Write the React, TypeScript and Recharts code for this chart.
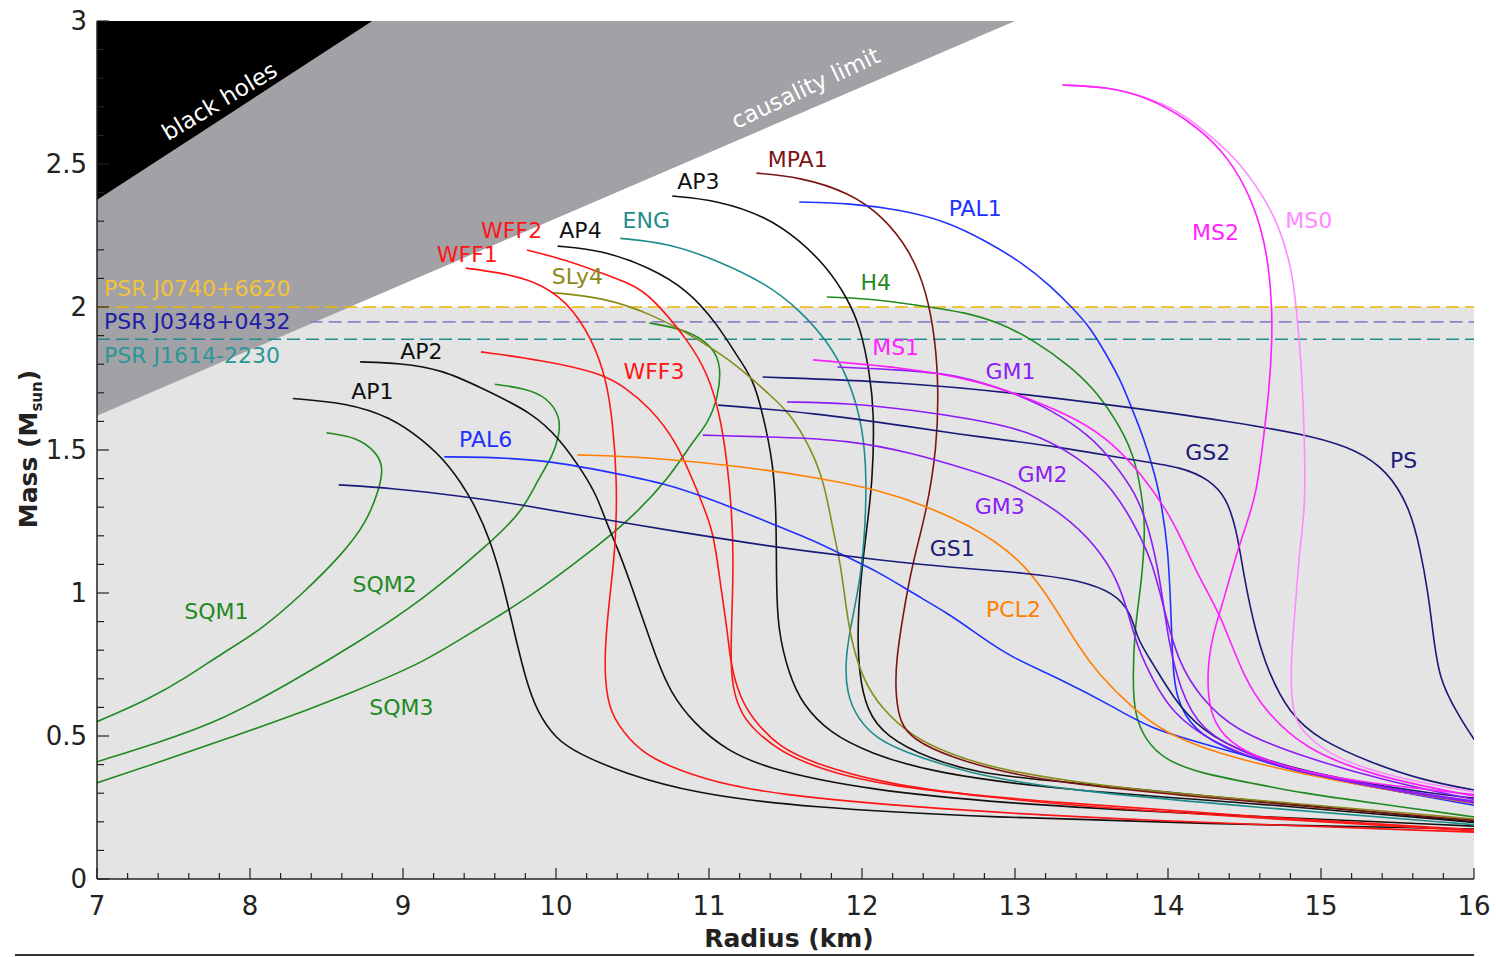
import React from 'react';
import {
  ComposedChart,
  Line,
  Area,
  XAxis,
  YAxis,
  ReferenceArea,
  ReferenceLine,
  ReferenceDot,
} from 'recharts';

type Pt = [number, number]; // [radius km, mass Msun]

// ---- mass-radius curves ----
const SQM1: Pt[] = [[8.5, 1.56], [8.7, 1.545], [8.83, 1.49], [8.87, 1.44], [8.85, 1.37], [8.76, 1.245], [8.61, 1.14], [8.35, 1.0], [8.07, 0.87], [7.82, 0.79], [7.59, 0.706], [7.33, 0.626], [7.0, 0.55]];
const SQM2: Pt[] = [[9.6, 1.73], [9.8, 1.715], [9.94, 1.685], [10.03, 1.615], [10.02, 1.55], [9.98, 1.48], [9.88, 1.395], [9.78, 1.285], [9.57, 1.175], [9.13, 0.976], [8.7, 0.825], [8.26, 0.685], [7.82, 0.556], [7.39, 0.475], [7.0, 0.41]];
const SQM3: Pt[] = [[10.61, 1.944], [10.86, 1.92], [11.03, 1.86], [11.08, 1.79], [11.06, 1.685], [10.99, 1.59], [10.9, 1.535], [10.73, 1.395], [10.48, 1.255], [10.19, 1.13], [9.83, 0.986], [9.5, 0.88], [9.13, 0.755], [8.7, 0.66], [8.26, 0.567], [7.82, 0.486], [7.39, 0.405], [7.0, 0.336]];
const AP1: Pt[] = [[8.28, 1.68], [8.63, 1.665], [8.92, 1.615], [9.13, 1.535], [9.3, 1.45], [9.46, 1.32], [9.57, 1.185], [9.65, 1.04], [9.72, 0.88], [9.8, 0.7], [9.88, 0.58], [10.0, 0.49], [10.14, 0.44], [10.44, 0.37], [10.9, 0.3], [11.62, 0.25], [12.89, 0.215], [14.16, 0.194], [16, 0.175]];
const AP2: Pt[] = [[8.72, 1.808], [8.98, 1.804], [9.26, 1.78], [9.5, 1.72], [9.85, 1.63], [10.03, 1.535], [10.18, 1.42], [10.27, 1.336], [10.33, 1.245], [10.4, 1.16], [10.48, 1.045], [10.57, 0.906], [10.66, 0.766], [10.75, 0.65], [10.9, 0.545], [11.11, 0.45], [11.41, 0.38], [12.05, 0.311], [12.89, 0.266], [14.16, 0.228], [16, 0.185]];
const AP3: Pt[] = [[10.76, 2.388], [11.05, 2.374], [11.38, 2.315], [11.59, 2.234], [11.77, 2.14], [11.9, 2.035], [11.99, 1.93], [12.05, 1.77], [12.08, 1.63], [12.07, 1.395], [12.03, 1.22], [11.99, 1.045], [11.97, 0.87], [11.98, 0.72], [12.03, 0.59], [12.15, 0.5], [12.44, 0.42], [12.77, 0.37], [13.1, 0.35], [14.16, 0.295], [16, 0.2]];
const AP4: Pt[] = [[10.01, 2.213], [10.29, 2.2], [10.61, 2.14], [10.86, 2.06], [11.05, 1.944], [11.2, 1.815], [11.29, 1.745], [11.35, 1.63], [11.42, 1.455], [11.44, 1.28], [11.44, 1.045], [11.45, 0.87], [11.52, 0.72], [11.61, 0.61], [11.79, 0.51], [12.05, 0.44], [12.47, 0.37], [13.31, 0.311], [14.59, 0.264], [16, 0.198]];
const ENG: Pt[] = [[10.42, 2.24], [10.73, 2.224], [11.05, 2.164], [11.38, 2.08], [11.59, 1.99], [11.77, 1.885], [11.92, 1.745], [12.01, 1.57], [12.03, 1.395], [12.02, 1.22], [11.99, 1.045], [11.92, 0.87], [11.89, 0.755], [11.9, 0.65], [11.97, 0.56], [12.1, 0.49], [12.25, 0.45], [12.68, 0.37], [13.31, 0.311], [14.59, 0.25], [16, 0.19]];
const SLY4: Pt[] = [[9.98, 2.05], [10.29, 2.035], [10.61, 1.98], [10.94, 1.885], [11.2, 1.79], [11.38, 1.7], [11.53, 1.63], [11.66, 1.51], [11.75, 1.395], [11.81, 1.22], [11.86, 1.105], [11.9, 0.93], [11.94, 0.81], [12.01, 0.696], [12.12, 0.6], [12.33, 0.497], [12.56, 0.44], [12.89, 0.38], [13.74, 0.311], [14.8, 0.266], [16, 0.21]];
const MPA1: Pt[] = [[11.31, 2.468], [11.59, 2.455], [11.92, 2.4], [12.14, 2.315], [12.31, 2.2], [12.42, 2.06], [12.48, 1.885], [12.5, 1.71], [12.49, 1.51], [12.42, 1.28], [12.33, 1.105], [12.27, 0.93], [12.22, 0.755], [12.22, 0.636], [12.25, 0.545], [12.33, 0.49], [12.56, 0.427], [13.1, 0.346], [14.16, 0.287], [16, 0.205]];
const WFF1: Pt[] = [[9.41, 2.136], [9.63, 2.12], [9.85, 2.094], [10.07, 2.024], [10.24, 1.885], [10.33, 1.745], [10.37, 1.6], [10.4, 1.395], [10.39, 1.16], [10.35, 0.986], [10.32, 0.81], [10.32, 0.696], [10.35, 0.58], [10.48, 0.486], [10.62, 0.42], [10.95, 0.35], [11.41, 0.295], [12.47, 0.245], [13.74, 0.206], [16, 0.164]];
const WFF2: Pt[] = [[9.81, 2.199], [10.07, 2.164], [10.29, 2.12], [10.55, 2.07], [10.68, 2.0], [10.86, 1.885], [10.99, 1.77], [11.07, 1.63], [11.12, 1.455], [11.15, 1.28], [11.16, 1.105], [11.15, 0.93], [11.14, 0.755], [11.16, 0.65], [11.22, 0.57], [11.3, 0.52], [11.46, 0.445], [11.79, 0.37], [12.33, 0.311], [13.31, 0.266], [14.59, 0.217], [16, 0.172]];
const WFF3: Pt[] = [[9.51, 1.843], [9.9, 1.815], [10.29, 1.77], [10.45, 1.72], [10.61, 1.65], [10.79, 1.53], [10.92, 1.36], [11.03, 1.22], [11.07, 1.045], [11.12, 0.87], [11.14, 0.755], [11.2, 0.636], [11.29, 0.556], [11.46, 0.46], [11.68, 0.406], [12.12, 0.336], [12.77, 0.287], [13.74, 0.24], [16, 0.168]];
const H4: Pt[] = [[11.77, 2.035], [12.03, 2.03], [12.36, 2.007], [12.69, 1.98], [12.9, 1.944], [13.12, 1.885], [13.37, 1.79], [13.54, 1.7], [13.69, 1.58], [13.79, 1.465], [13.84, 1.3], [13.85, 1.22], [13.83, 1.045], [13.78, 0.87], [13.77, 0.696], [13.78, 0.58], [13.85, 0.486], [13.98, 0.416], [14.21, 0.37], [14.54, 0.336], [14.88, 0.3], [15.35, 0.265], [16, 0.217]];
const PAL1: Pt[] = [[11.59, 2.367], [11.92, 2.363], [12.25, 2.34], [12.55, 2.3], [12.8, 2.234], [13.05, 2.154], [13.24, 2.07], [13.37, 2.0], [13.49, 1.93], [13.59, 1.84], [13.69, 1.745], [13.76, 1.65], [13.84, 1.545], [13.92, 1.406], [13.96, 1.3], [14.0, 1.16], [14.02, 0.93], [14.03, 0.755], [14.05, 0.636], [14.16, 0.52], [14.43, 0.44], [14.88, 0.37], [15.33, 0.32], [16, 0.265]];
const PAL6: Pt[] = [[9.27, 1.476], [9.5, 1.476], [9.94, 1.465], [10.37, 1.42], [10.7, 1.385], [11.03, 1.325], [11.35, 1.255], [11.68, 1.185], [11.9, 1.126], [12.12, 1.07], [12.33, 1.0], [12.56, 0.93], [12.77, 0.85], [12.97, 0.776], [13.31, 0.696], [13.65, 0.6], [13.87, 0.53], [14.21, 0.476], [14.65, 0.41], [15.1, 0.35], [15.55, 0.3], [16, 0.258]];
const GS1: Pt[] = [[8.58, 1.378], [8.92, 1.367], [9.42, 1.336], [9.78, 1.308], [10.22, 1.266], [10.81, 1.213], [11.25, 1.175], [11.68, 1.143], [12.12, 1.115], [12.56, 1.09], [13.08, 1.07], [13.42, 1.045], [13.65, 1.0], [13.76, 0.93], [13.8, 0.836], [13.9, 0.755], [14.03, 0.636], [14.21, 0.52], [14.54, 0.427], [15.1, 0.35], [15.77, 0.295], [16, 0.283]];
const GS2: Pt[] = [[11.06, 1.657], [11.68, 1.63], [12.33, 1.58], [12.77, 1.545], [13.31, 1.51], [13.76, 1.465], [14.1, 1.44], [14.27, 1.395], [14.38, 1.336], [14.45, 1.22], [14.5, 1.045], [14.57, 0.87], [14.65, 0.73], [14.79, 0.58], [14.99, 0.486], [15.33, 0.406], [15.66, 0.346], [16, 0.311]];
const PS: Pt[] = [[11.35, 1.755], [12.25, 1.738], [12.99, 1.7], [13.74, 1.65], [14.48, 1.594], [14.98, 1.545], [15.23, 1.5], [15.43, 1.43], [15.58, 1.3], [15.65, 1.15], [15.7, 1.0], [15.73, 0.87], [15.77, 0.7], [15.89, 0.58], [16.0, 0.486], [16.1, 0.42]];
const GM1: Pt[] = [[11.84, 1.79], [12.25, 1.78], [12.62, 1.765], [12.99, 1.7], [13.24, 1.64], [13.49, 1.55], [13.64, 1.46], [13.79, 1.35], [13.88, 1.22], [13.95, 1.045], [14.0, 0.836], [14.08, 0.66], [14.21, 0.52], [14.54, 0.427], [15.0, 0.36], [15.52, 0.31], [16, 0.272]];
const MS1: Pt[] = [[11.68, 1.815], [12.25, 1.79], [12.75, 1.745], [13.12, 1.675], [13.42, 1.605], [13.64, 1.524], [13.84, 1.406], [13.99, 1.29], [14.08, 1.2], [14.21, 1.045], [14.34, 0.93], [14.5, 0.696], [14.65, 0.58], [14.88, 0.46], [15.33, 0.36], [16, 0.29]];
const MS2: Pt[] = [[13.31, 2.776], [13.61, 2.77], [13.86, 2.734], [14.11, 2.664], [14.36, 2.549], [14.51, 2.42], [14.61, 2.28], [14.66, 2.14], [14.68, 1.99], [14.68, 1.874], [14.66, 1.7], [14.62, 1.524], [14.58, 1.35], [14.5, 1.22], [14.43, 1.105], [14.37, 0.986], [14.3, 0.87], [14.26, 0.755], [14.26, 0.636], [14.3, 0.545], [14.43, 0.46], [14.76, 0.39], [15.22, 0.34], [16, 0.295]];
const MS0: Pt[] = [[13.31, 2.776], [13.61, 2.77], [13.86, 2.734], [14.05, 2.69], [14.21, 2.63], [14.44, 2.524], [14.61, 2.4], [14.73, 2.28], [14.81, 2.13], [14.84, 1.99], [14.87, 1.815], [14.89, 1.58], [14.9, 1.3], [14.86, 1.16], [14.83, 0.93], [14.8, 0.755], [14.81, 0.58], [14.88, 0.51], [15.1, 0.416], [15.55, 0.346], [16, 0.305]];
const GM2: Pt[] = [[11.51, 1.668], [11.9, 1.664], [12.33, 1.64], [12.7, 1.61], [13.08, 1.57], [13.42, 1.476], [13.65, 1.36], [13.8, 1.22], [13.9, 1.105], [13.98, 0.93], [14.07, 0.755], [14.21, 0.636], [14.43, 0.52], [14.88, 0.427], [15.44, 0.34], [16, 0.278]];
const GM3: Pt[] = [[10.96, 1.552], [11.46, 1.545], [11.9, 1.535], [12.33, 1.49], [12.7, 1.43], [12.97, 1.385], [13.31, 1.28], [13.54, 1.16], [13.67, 1.045], [13.74, 0.93], [13.8, 0.81], [13.9, 0.696], [14.03, 0.58], [14.26, 0.486], [14.65, 0.4], [15.33, 0.32], [16, 0.268]];
const PCL2: Pt[] = [[10.14, 1.483], [10.59, 1.476], [11.25, 1.44], [11.68, 1.406], [12.12, 1.36], [12.44, 1.3], [12.7, 1.235], [12.86, 1.185], [13.05, 1.105], [13.2, 1.0], [13.31, 0.906], [13.42, 0.81], [13.54, 0.72], [13.76, 0.6], [13.98, 0.51], [14.32, 0.44], [14.76, 0.38], [15.33, 0.32], [16, 0.265]];

// ---- excluded regions (boundary lines) ----
const blackHoleBand = [
  { r: 7, band: [2.374, 3] },
  { r: 8.8, band: [3, 3] },
];
const causalityBand = [
  { r: 7, band: [1.62, 2.374] },
  { r: 8.8, band: [2.034, 3] },
  { r: 13, band: [3, 3] },
];

// ---- pulsar mass limits ----
const pulsars = [
  { name: 'PSR J0740+6620', mass: 2.0, from: 7, line: '#f0b400', text: '#f2c23a', labelM: 2.063 },
  { name: 'PSR J0348+0432', mass: 1.948, from: 8.39, line: '#8a86c8', text: '#1c1ca6', labelM: 1.948 },
  { name: 'PSR J1614-2230', mass: 1.887, from: 7, line: '#1f8c8c', text: '#2a9797', labelM: 1.829 },
];

const GREEN = '#1f8a1f';
const BLACK = '#111111';
const RED = '#ff1515';
const TEAL = '#1f8c8c';
const OLIVE = '#8a8a1a';
const MAROON = '#7d1414';
const BLUE = '#2030ff';
const MAGENTA = '#ff1fff';
const PINK = '#ff8aff';
const PURPLE = '#8c1cf5';
const NAVY = '#1a1a78';
const ORANGE = '#ff8000';

const curves = [
  { name: 'SQM1', pts: SQM1, color: GREEN },
  { name: 'SQM2', pts: SQM2, color: GREEN },
  { name: 'SQM3', pts: SQM3, color: GREEN },
  { name: 'H4', pts: H4, color: GREEN },
  { name: 'AP1', pts: AP1, color: BLACK },
  { name: 'AP2', pts: AP2, color: BLACK },
  { name: 'AP3', pts: AP3, color: BLACK },
  { name: 'AP4', pts: AP4, color: BLACK },
  { name: 'ENG', pts: ENG, color: TEAL },
  { name: 'SLy4', pts: SLY4, color: OLIVE },
  { name: 'MPA1', pts: MPA1, color: MAROON },
  { name: 'WFF1', pts: WFF1, color: RED },
  { name: 'WFF2', pts: WFF2, color: RED },
  { name: 'WFF3', pts: WFF3, color: RED },
  { name: 'PAL1', pts: PAL1, color: BLUE },
  { name: 'PAL6', pts: PAL6, color: BLUE },
  { name: 'PCL2', pts: PCL2, color: ORANGE },
  { name: 'GS1', pts: GS1, color: NAVY },
  { name: 'GS2', pts: GS2, color: NAVY },
  { name: 'PS', pts: PS, color: NAVY },
  { name: 'GM1', pts: GM1, color: PURPLE },
  { name: 'GM2', pts: GM2, color: PURPLE },
  { name: 'GM3', pts: GM3, color: PURPLE },
  { name: 'MS0', pts: MS0, color: PINK },
  { name: 'MS1', pts: MS1, color: MAGENTA },
  { name: 'MS2', pts: MS2, color: MAGENTA },
];

// curve name labels: [text, r, m, color]
const curveLabels: [string, number, number, string][] = [
  ['MPA1', 11.58, 2.514, MAROON],
  ['AP3', 10.93, 2.44, BLACK],
  ['PAL1', 12.74, 2.346, BLUE],
  ['MS2', 14.31, 2.259, MAGENTA],
  ['MS0', 14.92, 2.304, PINK],
  ['WFF2', 9.71, 2.269, RED],
  ['AP4', 10.16, 2.269, BLACK],
  ['ENG', 10.59, 2.304, TEAL],
  ['WFF1', 9.42, 2.185, RED],
  ['SLy4', 10.14, 2.105, OLIVE],
  ['H4', 12.09, 2.084, GREEN],
  ['MS1', 12.22, 1.86, MAGENTA],
  ['AP2', 9.12, 1.846, BLACK],
  ['WFF3', 10.64, 1.773, RED],
  ['GM1', 12.97, 1.773, PURPLE],
  ['AP1', 8.8, 1.706, BLACK],
  ['PAL6', 9.54, 1.538, BLUE],
  ['GS2', 14.26, 1.49, NAVY],
  ['PS', 15.54, 1.465, NAVY],
  ['GM2', 13.18, 1.416, PURPLE],
  ['GM3', 12.9, 1.304, PURPLE],
  ['GS1', 12.59, 1.154, NAVY],
  ['SQM2', 8.88, 1.031, GREEN],
  ['SQM1', 7.78, 0.937, GREEN],
  ['PCL2', 12.99, 0.944, ORANGE],
  ['SQM3', 8.99, 0.598, GREEN],
];

const xMajor = [7, 8, 9, 10, 11, 12, 13, 14, 15, 16];
const yMajor = [0, 0.5, 1, 1.5, 2, 2.5, 3];
const xTicks: number[] = [];
for (let i = 0; i <= 45; i++) xTicks.push(Math.round((7 + i * 0.2) * 10) / 10);
const yTicks: number[] = [];
for (let i = 0; i <= 30; i++) yTicks.push(i / 10);

const FONT = "'DejaVu Sans', 'Lucida Grande', sans-serif";
const AXIS = '#222222';

const isMajor = (v: number, list: number[]) => list.some((t) => Math.abs(t - v) < 1e-6);

const BottomTick = (props: any) => {
  const { x, y, payload } = props;
  const major = isMajor(payload.value, xMajor);
  return (
    <g>
      <line x1={x} y1={y} x2={x} y2={y - (major ? 11 : 6)} stroke={AXIS} strokeWidth={1.2} />
      {major && (
        <text x={x} y={y + 36} textAnchor="middle" fontSize={26} fontFamily={FONT} fill={AXIS}>
          {payload.value}
        </text>
      )}
    </g>
  );
};

const TopTick = (props: any) => {
  const { x, y, payload } = props;
  const major = isMajor(payload.value, xMajor);
  return <line x1={x} y1={y} x2={x} y2={y + (major ? 11 : 6)} stroke={AXIS} strokeWidth={1.2} />;
};

const LeftTick = (props: any) => {
  const { x, y, payload } = props;
  const major = isMajor(payload.value, yMajor);
  return (
    <g>
      <line x1={x} y1={y} x2={x + (major ? 12 : 7)} y2={y} stroke={AXIS} strokeWidth={1.2} />
      {major && (
        <text x={x - 10} y={y + 9} textAnchor="end" fontSize={26} fontFamily={FONT} fill={AXIS}>
          {payload.value}
        </text>
      )}
    </g>
  );
};

const RightTick = (props: any) => {
  const { x, y, payload } = props;
  const major = isMajor(payload.value, yMajor);
  return <line x1={x} y1={y} x2={x - (major ? 12 : 7)} y2={y} stroke={AXIS} strokeWidth={1.2} />;
};

const textShape = (text: string, color: string, size = 22, angle = 0, weight = 'normal') => (p: any) => (
  <text
    x={p.cx}
    y={p.cy}
    textAnchor="middle"
    dominantBaseline="central"
    fontSize={size}
    fontFamily={FONT}
    fontWeight={weight}
    fill={color}
    transform={angle ? `rotate(${angle}, ${p.cx}, ${p.cy})` : undefined}
  >
    {text}
  </text>
);

const leftTextShape = (text: string, color: string) => (p: any) => (
  <text x={p.cx} y={p.cy} dominantBaseline="central" fontSize={22} fontFamily={FONT} fill={color}>
    {text}
  </text>
);

export default function App() {
  return (
    <div style={{ position: 'absolute', left: 0, top: 0, width: 1496, height: 957, background: '#fff' }}>
      <ComposedChart width={1496} height={957} margin={{ top: 21, right: 22, left: 0, bottom: 0 }}>
        <XAxis
          xAxisId="b"
          type="number"
          dataKey="r"
          domain={[7, 16]}
          allowDataOverflow
          ticks={xTicks}
          interval={0}
          tickSize={0}
          tickMargin={0}
          tickLine={false}
          tick={<BottomTick />}
          height={78}
          axisLine={{ stroke: AXIS, strokeWidth: 1.5 }}
          label={{
            content: () => (
              <text x={789} y={947} textAnchor="middle" fontSize={25} fontWeight="bold" fontFamily={FONT} fill={AXIS}>
                Radius (km)
              </text>
            ),
          }}
        />
        <XAxis
          xAxisId="t"
          orientation="top"
          type="number"
          dataKey="r"
          domain={[7, 16]}
          allowDataOverflow
          ticks={xTicks}
          interval={0}
          tickSize={0}
          tickMargin={0}
          tickLine={false}
          tick={<TopTick />}
          height={0}
          axisLine={{ stroke: AXIS, strokeWidth: 1.2 }}
        />
        <YAxis
          yAxisId="l"
          type="number"
          domain={[0, 3]}
          allowDataOverflow
          ticks={yTicks}
          interval={0}
          tickSize={0}
          tickMargin={0}
          tickLine={false}
          tick={<LeftTick />}
          width={97}
          axisLine={{ stroke: AXIS, strokeWidth: 1.5 }}
          label={{
            content: () => (
              <text
                transform="translate(37, 449) rotate(-90)"
                textAnchor="middle"
                fontSize={25}
                fontWeight="bold"
                fontFamily={FONT}
                fill={AXIS}
              >
                Mass (M<tspan fontSize={15} dy={5}>sun</tspan>
                <tspan dy={-5}>)</tspan>
              </text>
            ),
          }}
        />
        <YAxis
          yAxisId="r"
          orientation="right"
          type="number"
          domain={[0, 3]}
          allowDataOverflow
          ticks={yTicks}
          interval={0}
          tickSize={0}
          tickMargin={0}
          tickLine={false}
          tick={<RightTick />}
          width={0}
          axisLine={{ stroke: AXIS, strokeWidth: 1.5 }}
        />

        <ReferenceArea xAxisId="b" yAxisId="l" x1={7} x2={16} y1={0} y2={2.0} fill="#e4e4e4" fillOpacity={1} stroke="none" />
        <Area
          xAxisId="b"
          yAxisId="l"
          data={causalityBand}
          dataKey="band"
          type="linear"
          fill="#a2a1a6"
          fillOpacity={1}
          stroke="none"
          isAnimationActive={false}
        />
        <Area
          xAxisId="b"
          yAxisId="l"
          data={blackHoleBand}
          dataKey="band"
          type="linear"
          fill="#000000"
          fillOpacity={1}
          stroke="none"
          isAnimationActive={false}
        />

        {pulsars.map((p) => (
          <ReferenceLine
            key={p.name}
            xAxisId="b"
            yAxisId="l"
            segment={[{ x: p.from, y: p.mass }, { x: 16, y: p.mass }]}
            stroke={p.line}
            strokeWidth={1.6}
            strokeDasharray="13 6"
          />
        ))}

        {curves.map((c) => (
          <Line
            key={c.name}
            xAxisId="b"
            yAxisId="l"
            data={c.pts.map(([r, m]) => ({ r, m }))}
            dataKey="m"
            type="basis"
            stroke={c.color}
            strokeWidth={1.6}
            dot={false}
            activeDot={false}
            isAnimationActive={false}
          />
        ))}

        <ReferenceDot xAxisId="b" yAxisId="l" x={7.8} y={2.72} r={0} shape={textShape('black holes', '#ffffff', 23, -31)} />
        <ReferenceDot xAxisId="b" yAxisId="l" x={11.63} y={2.766} r={0} shape={textShape('causality limit', '#ffffff', 23, -25)} />

        {pulsars.map((p) => (
          <ReferenceDot
            key={'lbl' + p.name}
            xAxisId="b"
            yAxisId="l"
            x={7.046}
            y={p.labelM}
            r={0}
            shape={leftTextShape(p.name, p.text)}
          />
        ))}

        {curveLabels.map(([t, r, m, col]) => (
          <ReferenceDot key={'c' + t} xAxisId="b" yAxisId="l" x={r} y={m} r={0} shape={textShape(t, col, 22)} />
        ))}
      </ComposedChart>
      <div style={{ position: 'absolute', left: 15, top: 954, width: 1459, height: 2, background: '#3b3232' }} />
    </div>
  );
}
